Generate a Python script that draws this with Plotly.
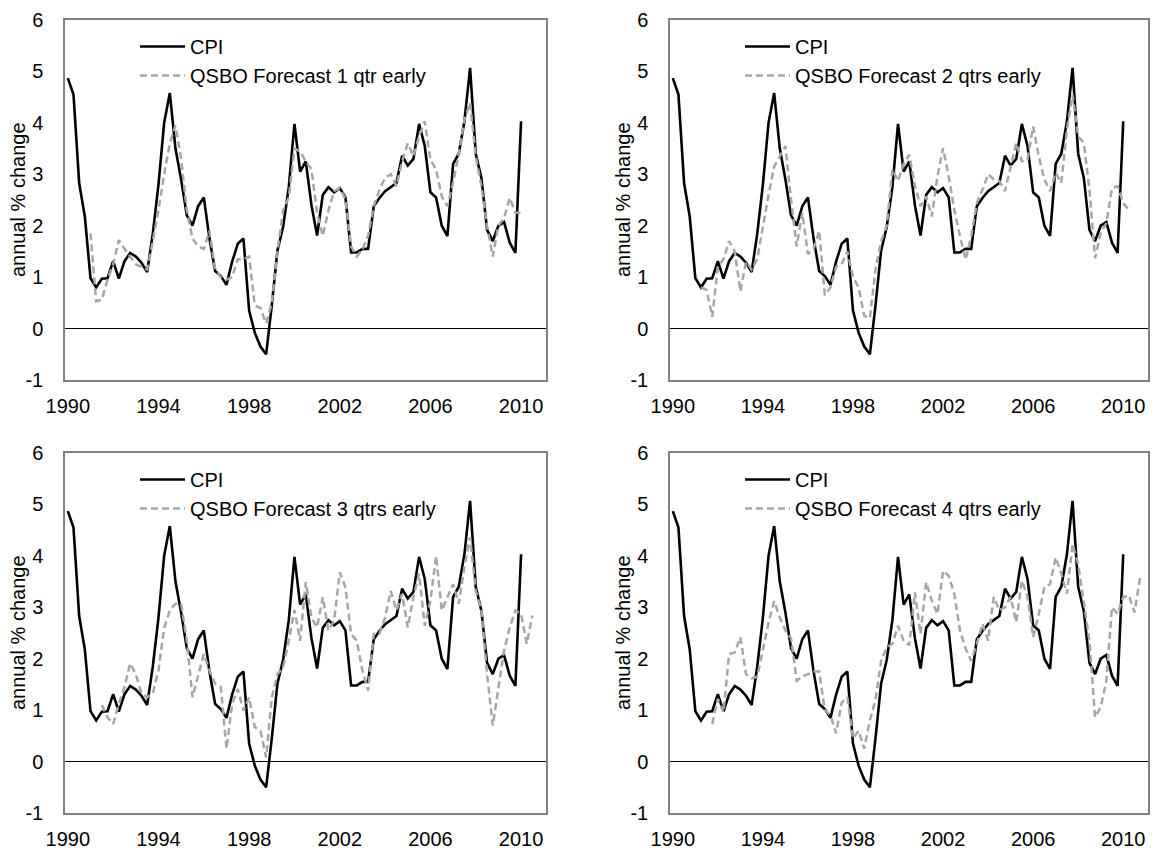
import plotly.graph_objects as go

# Quarterly observations, 1990Q4 .. 2010Q4 (index 0 .. 80); year labels fall on every 16th quarter
tick_positions = [0, 16, 32, 48, 64, 80]
tick_labels = ["1990", "1994", "1998", "2002", "2006", "2010"]
y_ticks = [-1, 0, 1, 2, 3, 4, 5, 6]
y_tick_labels = ["-1", "0", "1", "2", "3", "4", "5", "6"]
y_title = "annual % change"

cpi = [4.87, 4.55, 2.83, 2.18, 0.98, 0.80, 0.97, 0.98, 1.31, 0.97,
       1.31, 1.47, 1.40, 1.28, 1.10, 1.85, 2.80, 4.00, 4.58, 3.50,
       2.90, 2.20, 2.00, 2.38, 2.55, 1.75, 1.12, 1.02, 0.85, 1.30,
       1.65, 1.75, 0.35, -0.08, -0.35, -0.50, 0.45, 1.52, 1.98, 2.75,
       3.98, 3.05, 3.25, 2.40, 1.81, 2.60, 2.75, 2.65, 2.73, 2.55,
       1.48, 1.48, 1.55, 1.55, 2.38, 2.54, 2.67, 2.75, 2.83, 3.36,
       3.17, 3.30, 3.98, 3.55, 2.65, 2.55, 2.00, 1.80, 3.20, 3.40,
       4.03, 5.07, 3.40, 2.93, 1.92, 1.70, 2.00, 2.07, 1.67, 1.47,
       4.03]

# QSBO forecasts; each list starts at the quarter index given by its *_start value
fc1_start = 4
fc1 = [1.85, 0.53, 0.56, 0.95, 1.25, 1.72, 1.55, 1.4, 1.25, 1.2, 1.15,
       1.7, 2.3, 3.0, 3.6, 3.95, 3.3, 2.3, 1.75, 1.6, 1.55,
       1.9, 1.15, 1.0, 0.95, 1.0, 1.35, 1.35, 1.4, 0.45, 0.4,
       0.1, 0.5, 1.5, 2.3, 2.55, 3.5, 3.45, 3.25, 3.1, 2.25,
       1.8, 2.3, 2.67, 2.73, 2.52, 1.6, 1.4, 1.54, 1.8, 2.38,
       2.7, 2.93, 3.0, 2.77, 3.25, 3.6, 3.35, 3.74, 4.03, 3.28,
       3.1, 2.57, 2.38, 2.83, 3.4, 4.06, 4.39, 3.35, 2.77, 1.99,
       1.4, 2.0, 2.15, 2.54, 2.25, 2.25]

fc2_start = 5
fc2 = [0.8, 0.75, 0.23, 1.2, 1.35, 1.7, 1.5, 0.72, 1.3, 1.15,
       1.35, 2.0, 2.6, 3.15, 3.35, 3.55, 2.5, 1.6, 2.25, 1.45,
       1.55, 1.9, 0.65, 0.8, 1.2, 1.25, 1.5, 1.0, 0.8, 0.25,
       0.2, 1.15, 1.7, 2.0, 3.1, 2.87, 3.2, 3.38, 2.77, 2.38,
       2.57, 2.18, 2.96, 3.51, 2.96, 2.31, 1.8, 1.34, 1.8, 2.44,
       2.7, 3.0, 2.9, 2.87, 2.67, 3.12, 3.61, 3.25, 3.29, 3.93,
       3.35, 2.9, 2.67, 3.03, 2.83, 3.87, 4.55, 3.74, 3.61, 2.7,
       1.37, 1.86, 2.05, 2.73, 2.77, 2.44, 2.31]

fc3_start = 6
fc3 = [1.1, 0.86, 0.73, 1.12, 1.45, 1.91, 1.7, 1.32, 1.25, 1.33,
       1.77, 2.6, 2.94, 3.07, 3.07, 2.35, 1.25, 1.7, 2.09, 1.77,
       1.51, 1.45, 0.25, 1.12, 1.41, 0.99, 1.25, 0.67, 0.6, 0.08,
       1.25, 1.7, 1.83, 2.35, 2.95, 2.35, 3.49, 2.8, 2.61, 3.2,
       2.55, 2.74, 3.68, 3.39, 2.48, 2.35, 1.77, 1.38, 2.48, 2.48,
       2.8, 3.32, 2.94, 3.26, 2.61, 3.2, 3.65, 2.64, 3.13, 4.0,
       2.94, 3.2, 3.45, 3.07, 3.78, 4.36, 3.32, 2.94, 1.7, 0.7,
       1.45, 2.16, 2.61, 2.94, 2.87, 2.29, 2.84]

fc4_start = 7
fc4 = [0.73, 1.22, 0.96, 2.09, 2.12, 2.42, 1.7, 1.62, 1.65, 2.2,
       2.7, 3.12, 2.8, 2.55, 2.4, 1.57, 1.65, 1.7, 1.75, 1.75,
       1.0, 0.9, 0.55, 1.15, 1.25, 0.45, 0.6, 0.25, 0.8, 1.2,
       1.96, 2.22, 2.29, 2.64, 2.35, 2.26, 3.29, 2.48, 3.49, 3.13,
       2.87, 3.71, 3.61, 3.26, 2.55, 2.2, 1.96, 2.29, 2.68, 2.35,
       3.2, 2.94, 3.0, 3.2, 2.71, 3.52, 3.2, 2.42, 2.87, 3.39,
       3.45, 3.97, 3.65, 3.26, 4.23, 3.84, 3.13, 2.35, 0.86, 1.06,
       1.57, 3.0, 2.87, 3.2, 3.23, 2.9, 3.58]

forecast_names = ["QSBO Forecast 1 qtr early", "QSBO Forecast 2 qtrs early",
                  "QSBO Forecast 3 qtrs early", "QSBO Forecast 4 qtrs early"]
forecasts = [(fc1_start, fc1), (fc2_start, fc2), (fc3_start, fc3), (fc4_start, fc4)]

FONT = "Liberation Sans, Arial, sans-serif"
W, H = 1158, 850
ML, MR, MT, MB = 65, 10, 20, 37
PW, PH = W - ML - MR, H - MT - MB

def px_x(p):
    return (p - ML) / PW

def px_y(p):
    return 1 - (p - MT) / PH

# panel pixel boxes (left, right, top, bottom)
boxes = [(65, 546, 20, 380), (670, 1148, 20, 380), (65, 546, 453, 813), (670, 1148, 453, 813)]

fig = go.Figure()
cpi_x = list(range(len(cpi)))
annotations = []

for k, ((start, vals), name, box) in enumerate(zip(forecasts, forecast_names, boxes)):
    sfx = "" if k == 0 else str(k + 1)
    xa, ya = "x" + sfx, "y" + sfx
    leg = "legend" + sfx
    fig.add_trace(go.Scatter(x=cpi_x, y=cpi, mode="lines", name="CPI",
                             line=dict(color="black", width=2.6),
                             xaxis=xa, yaxis=ya, legend=leg))
    fig.add_trace(go.Scatter(x=list(range(start, start + len(vals))), y=vals, mode="lines",
                             name=name,
                             line=dict(color="#A6A6A6", width=2.5, dash="7px,4px"),
                             xaxis=xa, yaxis=ya, legend=leg))
    l, r, t, b = box
    axis_common = dict(showline=True, mirror=True, linecolor="#808080", linewidth=1.5,
                       showgrid=False, ticks="", automargin=False,
                       tickfont=dict(family=FONT, size=20, color="black"))
    fig.layout["xaxis" + sfx] = dict(domain=[px_x(l), px_x(r)], anchor=ya, range=[-0.5, 84.4],
                                    tickvals=tick_positions, ticktext=tick_labels,
                                    zeroline=False, ticklabelstandoff=7, **axis_common)
    fig.layout["yaxis" + sfx] = dict(domain=[px_y(b), px_y(t)], anchor=xa, range=[-1, 6],
                                    tickvals=y_ticks, ticktext=y_tick_labels,
                                    zeroline=True, zerolinecolor="black", zerolinewidth=1,
                                    ticklabelstandoff=16, **axis_common)
    fig.layout[leg] = dict(x=px_x(l + 70), y=px_y(t + 7), xanchor="left", yanchor="top",
                           bgcolor="rgba(0,0,0,0)", borderwidth=0, itemwidth=45,
                           font=dict(family=FONT, size=20, color="black"))
    annotations.append(dict(text=y_title, textangle=-90, showarrow=False,
                            xref="paper", yref="paper",
                            x=px_x(l - 47), y=px_y((t + b) / 2),
                            xanchor="center", yanchor="middle",
                            font=dict(family=FONT, size=20, color="black")))

fig.update_layout(width=W, height=H,
                  margin=dict(l=ML, r=MR, t=MT, b=MB, autoexpand=False),
                  paper_bgcolor="white", plot_bgcolor="white", showlegend=True,
                  annotations=annotations,
                  font=dict(family=FONT, size=20, color="black"))

fig.write_html("out.html", config={"displayModeBar": False},
               post_script="document.body.style.margin='0';")
